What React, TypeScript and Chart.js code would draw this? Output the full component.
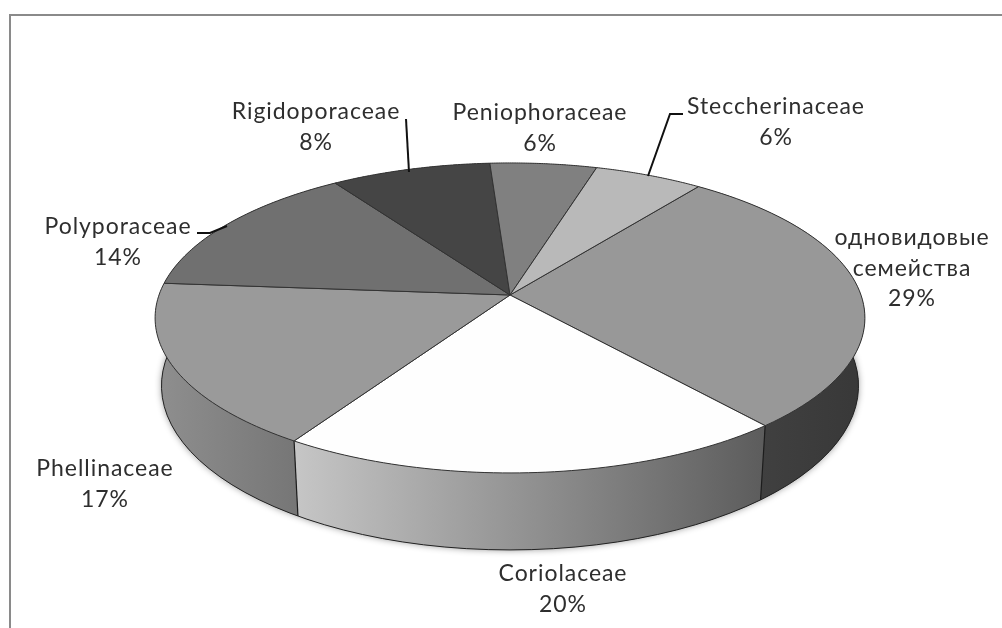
import React, { useEffect, useRef } from "react";
import { Chart, registerables } from "chart.js";

Chart.register(...registerables);

const categories = [
  ["одновидовые", "семейства"],
  ["Coriolaceae"],
  ["Phellinaceae"],
  ["Polyporaceae"],
  ["Rigidoporaceae"],
  ["Peniophoraceae"],
  ["Steccherinaceae"],
];
const shares = [28.6, 20.2, 17.2, 14.3, 8.4, 5.6, 5.7];
const topColors = ["#989898", "#fefefe", "#9a9a9a", "#707070", "#454545", "#808080", "#b9b9b9"];
const wallColors = [
  ["#454545", "#383838"],
  ["#c6c6c6", "#5c5c5c"],
  ["#8f8f8f", "#767676"],
  ["#555555", "#555555"],
  ["#333333", "#333333"],
  ["#555555", "#555555"],
  ["#777777", "#777777"],
];
const labelAnchors = [
  [912, 238],
  [563, 574],
  [105, 469],
  [118, 227],
  [316, 112],
  [540, 113],
  [776, 107],
];
const leaders = [
  [[683, 114], [670, 114], [648, 176]],
  [[406, 119], [409, 172]],
  [[197, 233], [210, 233], [227, 226]],
];

const PERSPECTIVE = -0.148;
const RADIUS_X = 351;
const RADIUS_Y = 151.6;
const STEPS = 60;
const FONT = '23px Lato, "Open Sans", sans-serif';
const LINE = 30.5;

type P = [number, number];

function rim(x: number, y: number, a: number): P {
  const u = Math.cos(a);
  const v = Math.sin(a);
  const w = 1 + PERSPECTIVE * v;
  return [x + (RADIUS_X * u) / w, y + (RADIUS_Y * v) / w];
}
function lower(x: number, p: P): P {
  const depth = 68 + (9 * (p[1] - 320)) / 153;
  return [x + (p[0] - x) * 0.982, p[1] + depth];
}
function arcPoints(x: number, y: number, s: number, e: number): P[] {
  const pts: P[] = [];
  for (let i = 0; i <= STEPS; i++) pts.push(rim(x, y, s + ((e - s) * i) / STEPS));
  return pts;
}
function polygon(ctx: CanvasRenderingContext2D, pts: P[]) {
  ctx.beginPath();
  pts.forEach((p, i) => (i ? ctx.lineTo(p[0], p[1]) : ctx.moveTo(p[0], p[1])));
  ctx.closePath();
}

const perspectivePie = {
  id: "perspectivePie",
  beforeDatasetsDraw(chart: any) {
    const ctx: CanvasRenderingContext2D = chart.ctx;
    const arcs = chart.getDatasetMeta(0).data;
    const cx = arcs[0].x;
    const cy = arcs[0].y;
    ctx.save();
    ctx.lineJoin = "round";

    ctx.save();
    ctx.shadowColor = "rgba(0,0,0,0.45)";
    ctx.shadowBlur = 7;
    ctx.fillStyle = "#555";
    polygon(ctx, arcPoints(cx, cy, 0, Math.PI * 2).map((p) => lower(cx, p)));
    ctx.fill();
    ctx.restore();

    arcs.forEach((arc: any, i: number) => {
      const top = arcPoints(cx, cy, arc.startAngle, arc.endAngle);
      const bottom = top.map((p) => lower(cx, p));
      const xs = top.map((p) => p[0]).concat(bottom.map((p) => p[0]));
      const g = ctx.createLinearGradient(Math.min(...xs), 0, Math.max(...xs), 0);
      g.addColorStop(0, wallColors[i][0]);
      g.addColorStop(1, wallColors[i][1]);
      ctx.fillStyle = g;
      polygon(ctx, top.concat(bottom.slice().reverse()));
      ctx.fill();
      if (Math.sin(arc.startAngle) > 0) {
        const a = rim(cx, cy, arc.startAngle);
        const b = lower(cx, a);
        ctx.strokeStyle = "#1c1c1c";
        ctx.lineWidth = 1.2;
        ctx.beginPath();
        ctx.moveTo(a[0], a[1]);
        ctx.lineTo(b[0], b[1]);
        ctx.stroke();
      }
    });

    ctx.strokeStyle = "#222";
    ctx.lineWidth = 1;
    ctx.beginPath();
    arcPoints(cx, cy, -0.05, Math.PI + 0.05)
      .map((p) => lower(cx, p))
      .forEach((p, i) => (i ? ctx.lineTo(p[0], p[1]) : ctx.moveTo(p[0], p[1])));
    ctx.stroke();

    arcs.forEach((arc: any) => {
      const pts = arcPoints(cx, cy, arc.startAngle, arc.endAngle);
      polygon(ctx, ([[cx, cy]] as P[]).concat(pts));
      ctx.fillStyle = arc.options.backgroundColor;
      ctx.fill();
      ctx.strokeStyle = "#333";
      ctx.lineWidth = 1;
      ctx.stroke();
    });
    ctx.restore();
    return false;
  },
  afterDraw(chart: any) {
    const ctx: CanvasRenderingContext2D = chart.ctx;
    ctx.save();
    ctx.strokeStyle = "#8a8a8a";
    ctx.lineWidth = 2;
    ctx.beginPath();
    ctx.moveTo(10, 628);
    ctx.lineTo(10, 15);
    ctx.lineTo(1002, 15);
    ctx.stroke();

    ctx.strokeStyle = "#111";
    ctx.lineWidth = 2;
    leaders.forEach((l) => {
      ctx.beginPath();
      l.forEach((p, i) => (i ? ctx.lineTo(p[0], p[1]) : ctx.moveTo(p[0], p[1])));
      ctx.stroke();
    });

    ctx.font = FONT;
    (ctx as any).letterSpacing = "0.95px";
    (ctx as any).filter = "blur(0.4px)";
    ctx.fillStyle = "#2e2e2e";
    ctx.textAlign = "center";
    ctx.textBaseline = "middle";
    categories.forEach((lines, i) => {
      const [x, y] = labelAnchors[i];
      lines.concat(Math.round(shares[i]) + "%").forEach((t, j) => ctx.fillText(t, x, y + j * LINE));
    });
    ctx.restore();
  },
};

export default function App() {
  const ref = useRef<HTMLCanvasElement>(null);
  useEffect(() => {
    const chart = new Chart(ref.current!, {
      type: "pie",
      data: {
        labels: categories.map((c) => c.join(" ")),
        datasets: [{ data: shares, backgroundColor: topColors }],
      },
      options: {
        animation: false,
        responsive: false,
        rotation: 36.9,
        layout: { padding: { left: 18, top: 0, right: 0, bottom: 38 } },
        plugins: { legend: { display: false }, tooltip: { enabled: false } },
      },
      plugins: [perspectivePie],
    } as any);
    return () => chart.destroy();
  }, []);
  return (
    <canvas
      ref={ref}
      width={1002}
      height={628}
      style={{ position: "fixed", left: 0, top: 0, width: 1002, height: 628, background: "#fff" }}
    />
  );
}
